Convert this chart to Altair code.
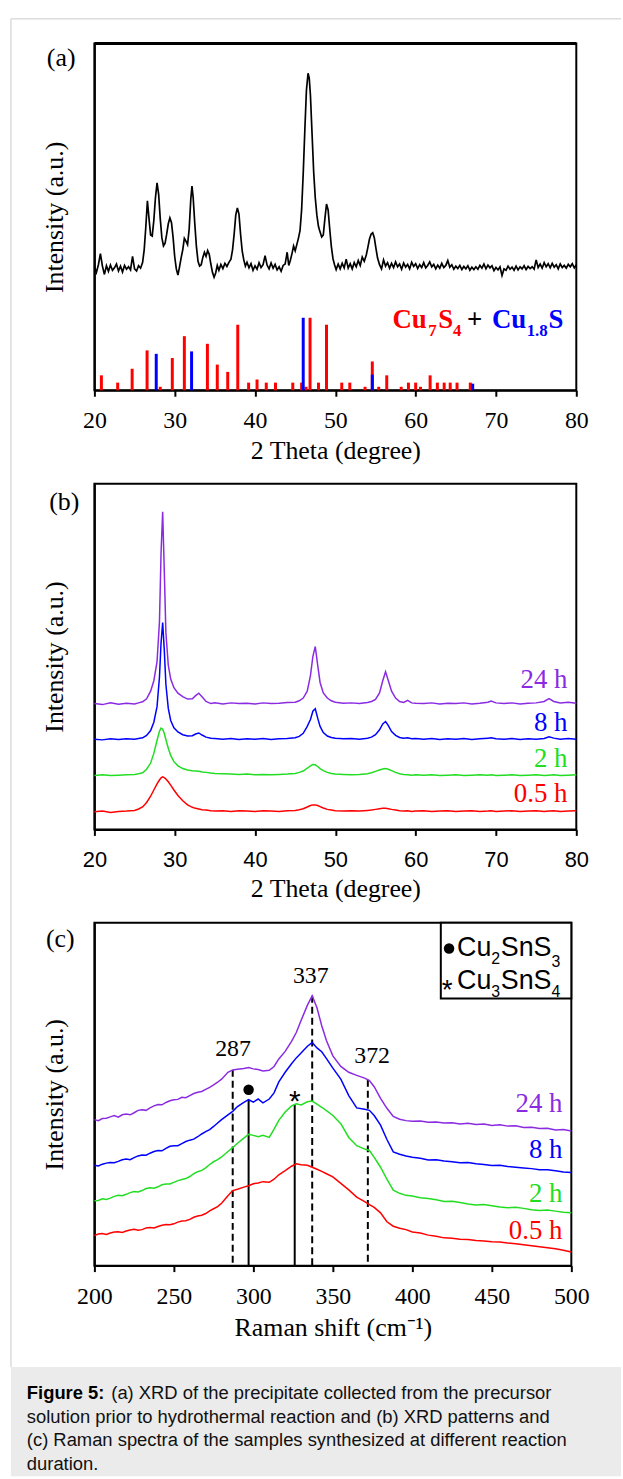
import altair as alt
import pandas as pd

SERIF = "Liberation Serif"
SANS = "Liberation Sans"
RED = "#ff0000"
BLUE = "#0000ff"
GREEN = "#22dd22"
PURPLE = "#8a2be2"
BLACK = "#000000"

# ---------------- (a) XRD of precipitate ----------------
a_x = [20.0, 20.25, 20.5, 20.75, 21.0, 21.25, 21.5, 21.75, 22.0, 22.25, 22.5, 22.75, 23.0, 23.25, 23.5, 23.75,
       24.0, 24.25, 24.5, 24.75, 25.0, 25.25, 25.5, 25.75, 26.0, 26.2, 26.4, 26.6, 26.8, 27.0, 27.2, 27.4,
       27.6, 27.8, 28.0, 28.2, 28.4, 28.6, 28.8, 29.0, 29.2, 29.4, 29.6, 29.8, 30.0, 30.2, 30.4, 30.6,
       30.8, 31.0, 31.2, 31.4, 31.6, 31.8, 32.0, 32.15, 32.3, 32.5, 32.7, 32.9, 33.1, 33.3, 33.5, 33.7,
       33.9, 34.1, 34.3, 34.5, 34.7, 34.9, 35.1, 35.3, 35.5, 35.75, 36.0, 36.25, 36.5, 36.75, 37.0, 37.2,
       37.4, 37.6, 37.8, 38.0, 38.2, 38.4, 38.6, 38.8, 39.0, 39.25, 39.5, 39.75, 40.0, 40.25, 40.5, 40.75,
       41.0, 41.25, 41.5, 41.75, 42.0, 42.25, 42.5, 42.75, 43.0, 43.25, 43.5, 43.75, 44.0, 44.2, 44.4, 44.6,
       44.8, 45.0, 45.2, 45.4, 45.6, 45.8, 46.0, 46.2, 46.4, 46.6, 46.75, 46.9, 47.1, 47.3, 47.5, 47.7,
       47.9, 48.1, 48.3, 48.5, 48.7, 48.9, 49.1, 49.3, 49.5, 49.7, 49.9, 50.1, 50.35, 50.6, 50.85, 51.1,
       51.35, 51.6, 51.85, 52.1, 52.35, 52.6, 52.85, 53.1, 53.35, 53.6, 53.85, 54.05, 54.25, 54.45, 54.65, 54.85,
       55.05, 55.25, 55.5, 55.75, 56.0, 56.25, 56.5, 56.75, 57.0, 57.25, 57.5, 57.75, 58.0, 58.25, 58.5, 58.75,
       59.0, 59.25, 59.5, 59.75, 60.0, 60.25, 60.5, 60.75, 61.0, 61.25, 61.5, 61.75, 62.0, 62.25, 62.5, 62.75,
       63.0, 63.25, 63.5, 63.75, 64.0, 64.25, 64.5, 64.75, 65.0, 65.25, 65.5, 65.75, 66.0, 66.25, 66.5, 66.75,
       67.0, 67.25, 67.5, 67.75, 68.0, 68.25, 68.5, 68.75, 69.0, 69.25, 69.5, 69.75, 70.0, 70.25, 70.5, 70.75,
       71.0, 71.25, 71.5, 71.75, 72.0, 72.25, 72.5, 72.75, 73.0, 73.25, 73.5, 73.75, 74.0, 74.25, 74.5, 74.75,
       75.0, 75.25, 75.5, 75.75, 76.0, 76.25, 76.5, 76.75, 77.0, 77.25, 77.5, 77.75, 78.0, 78.25, 78.5, 78.75,
       79.0, 79.25, 79.5, 79.75, 80.0]
a_y = [35.6, 34.0, 36.2, 39.4, 35.8, 33.4, 35.9, 34.3, 36.1, 34.6, 35.3, 36.4, 34.4, 35.8, 34.1, 36.0,
       34.9, 35.6, 34.7, 38.6, 35.0, 34.4, 35.9, 35.2, 36.8, 40.5, 47.0, 54.6, 49.5, 44.8, 44.5, 49.0,
       55.5, 59.8, 56.5, 49.5, 44.0, 41.6, 42.4, 45.0, 48.0, 49.7, 48.3, 44.0, 38.5, 35.0, 33.2, 35.6,
       38.2, 40.5, 43.8, 43.0, 42.0, 46.5, 55.0, 58.9, 55.5, 48.0, 41.5, 37.2, 35.8, 36.2, 38.3, 39.8,
       38.6, 40.3, 39.2, 36.4, 34.0, 32.6, 33.8, 36.0, 34.6, 36.3, 35.1, 36.6, 35.7, 36.9, 37.8, 40.5,
       45.0, 50.5, 52.6, 50.8, 45.0, 40.2, 37.6, 35.8, 36.9, 35.3, 36.5, 34.6, 35.9, 34.9, 36.8, 35.4,
       36.2, 38.8, 36.1, 35.0, 36.7, 35.2, 36.3, 34.7, 35.6, 34.3, 36.0, 36.4, 39.8, 36.0, 37.5, 39.4,
       41.6, 40.2, 42.0, 43.8, 46.0, 52.0, 62.5, 75.0, 86.5, 91.4, 90.0, 85.0, 74.0, 63.0, 55.5, 50.5,
       47.2, 45.6, 44.2, 44.8, 49.5, 53.7, 52.0, 46.5, 41.5, 38.0, 36.2, 34.8, 36.4, 35.0, 36.6, 35.3,
       37.8, 35.2, 36.5, 35.0, 36.8, 35.6, 37.4, 36.0, 38.4, 37.2, 39.0, 41.2, 43.6, 45.0, 45.4, 44.0,
       41.0, 38.2, 36.2, 35.0, 37.6, 35.8, 36.8, 35.2, 36.6, 35.4, 37.0, 35.6, 36.4, 34.9, 36.7, 35.5,
       36.3, 35.0, 36.9, 35.7, 36.5, 35.1, 36.2, 35.4, 36.8, 35.3, 36.0, 37.0, 35.6, 36.3, 35.0, 36.1,
       35.2, 36.6, 35.4, 36.0, 37.4, 35.5, 36.2, 34.9, 35.8, 35.1, 36.0, 34.8, 35.7, 35.0, 35.9, 34.6,
       35.5, 34.8, 35.6, 34.9, 36.0, 35.2, 36.4, 35.0, 36.1, 35.3, 35.9, 34.5, 35.4, 34.7, 35.6, 33.1,
       35.0, 34.6, 35.8, 34.9, 35.5, 34.6, 35.8, 34.7, 35.6, 35.0, 35.9, 34.8, 35.7, 35.1, 35.6, 34.9,
       37.6, 35.4, 36.4, 35.2, 36.8, 35.6, 36.5, 35.3, 36.6, 35.5, 36.2, 35.0, 36.4, 35.4, 36.0, 35.2,
       36.3, 35.6, 36.5, 35.3, 36.2]

# reference patterns (stick heights)
cu7s4_x = [20.87, 22.9, 24.7, 26.56, 28.2, 29.7, 31.2, 34.07, 35.3, 36.6, 37.85, 39.2, 40.25, 41.4, 42.55,
           44.7, 45.8, 46.35, 46.85, 47.9, 48.9, 50.8, 51.8, 53.7, 54.6, 55.4, 56.4, 58.2, 59.1, 60.0,
           60.6, 61.8, 62.7, 63.55, 64.3, 65.15, 66.8]
cu7s4_h = [4.3, 2.2, 6.2, 11.5, 1.0, 9.3, 15.6, 13.4, 7.4, 5.3, 18.9, 2.2, 3.1, 2.2, 2.2,
           2.2, 2.2, 1.0, 20.9, 2.2, 18.9, 2.2, 2.2, 1.0, 8.3, 1.0, 4.3, 1.0, 2.2, 2.2,
           1.0, 4.3, 2.2, 2.2, 2.2, 2.2, 2.2]
cu18s_x = [27.7, 32.1, 46.0, 54.6, 67.1]
cu18s_h = [10.5, 11.2, 20.9, 4.5, 1.9]

a_leg_t = ["Cu", "7", "S", "4", "+", "Cu", "1.8", "S"]
a_leg_x = [57.11, 61.57, 62.81, 64.66, 66.39, 69.49, 73.82, 76.54]
a_leg_y = [18.0, 15.6, 18.0, 15.6, 18.0, 18.0, 15.6, 18.0]
a_leg_c = [RED, RED, RED, RED, BLACK, BLUE, BLUE, BLUE]
a_leg_s = [27, 17, 27, 17, 27, 27, 17, 27]

# ---------------- (b) XRD vs time ----------------
b_x = [20, 21, 22, 23, 24, 25, 25.5, 26, 26.5, 27, 27.4, 27.8, 28.1, 28.3, 28.5, 28.7, 28.9, 29.2, 29.5, 29.9,
       30.4, 31, 31.6, 32.2, 32.6, 33, 33.4, 33.9, 34.5, 35, 36, 37, 38, 39, 40, 41, 42, 43, 44, 45,
       45.5, 46, 46.5, 46.9, 47.2, 47.5, 47.8, 48.1, 48.5, 49, 49.5, 50, 51, 52, 53, 54, 54.5, 55, 55.5, 55.9,
       56.25, 56.6, 57, 57.5, 58, 58.5, 59, 59.5, 60, 61, 62, 63, 64, 65, 66, 67, 68, 69, 69.4, 70,
       71, 72, 73, 74, 75, 76, 76.6, 77.2, 78, 79, 80]
b_24h = [36.4, 36.1, 36.6, 36.2, 36.5, 36.3, 36.6, 36.9, 37.8, 40.0, 43.0, 48.5, 60.0, 80.0, 91.9, 75.0, 57.0, 47.5, 43.5, 41.0,
         39.4, 38.4, 37.7, 37.8, 38.7, 39.4, 38.4, 37.0, 36.4, 36.6, 36.3, 36.6, 36.4, 36.5, 36.3, 36.6, 36.4, 36.5, 36.7, 36.8,
         37.2, 38.0, 40.0, 44.5, 50.0, 52.9, 47.5, 42.5, 39.5, 38.0, 37.2, 36.8, 36.5, 36.6, 36.4, 36.7, 37.0, 37.6, 39.5, 43.0,
         45.6, 43.0, 40.0, 38.0, 37.0, 36.7, 37.3, 36.6, 36.5, 36.4, 36.6, 36.3, 36.5, 36.4, 36.6, 36.3, 36.5, 36.8, 37.1, 36.6,
         36.4, 36.6, 36.3, 36.5, 36.6, 37.0, 37.8, 37.0, 36.6, 36.8, 36.5]
b_8h = [26.1, 25.9, 26.2, 26.0, 26.2, 26.1, 26.3, 26.5, 27.2, 28.6, 31.0, 35.5, 44.0, 54.0, 59.8, 52.0, 42.0, 35.0, 31.5, 29.4,
        28.2, 27.4, 27.0, 27.1, 27.6, 27.9, 27.3, 26.7, 26.4, 26.3, 26.1, 26.3, 26.0, 26.2, 26.1, 26.3, 26.0, 26.2, 26.3, 26.5,
        26.9, 27.8, 29.8, 31.8, 34.2, 34.9, 32.2, 29.8, 28.0, 27.0, 26.6, 26.4, 26.2, 26.3, 26.1, 26.4, 26.7, 27.4, 28.8, 30.5,
        31.2, 30.0, 28.3, 27.2, 26.6, 26.4, 26.5, 26.2, 26.3, 26.1, 26.3, 26.0, 26.2, 26.1, 26.3, 26.0, 26.2, 26.4, 26.5, 26.2,
        26.1, 26.3, 26.0, 26.2, 26.1, 26.3, 26.8, 26.4, 26.1, 26.3, 26.1]
b_2h = [15.6, 15.8, 15.6, 15.7, 15.8, 15.9, 16.1, 16.4, 17.4, 19.2, 22.0, 25.8, 28.4, 29.3, 29.0, 27.8, 26.0, 23.5, 21.4, 19.6,
        18.4, 17.6, 17.2, 17.0, 16.9, 16.8, 16.6, 16.5, 16.3, 16.2, 16.1, 16.0, 15.9, 16.0, 15.8, 15.9, 15.8, 15.9, 16.0, 16.2,
        16.5, 16.9, 17.7, 18.4, 18.8, 18.7, 18.2, 17.6, 17.0, 16.5, 16.2, 16.0, 15.9, 15.8, 15.9, 16.1, 16.4, 16.8, 17.2, 17.5,
        17.6, 17.4, 17.0, 16.5, 16.1, 15.9, 15.8, 15.7, 15.8, 15.7, 15.8, 15.6, 15.7, 15.8, 15.6, 15.7, 15.8, 15.7, 15.8, 15.6,
        15.7, 15.8, 15.6, 15.7, 15.8, 15.6, 15.7, 15.8, 15.6, 15.7, 15.8]
b_05h = [5.1, 5.3, 4.9, 5.2, 5.3, 5.5, 5.9, 6.5, 7.8, 9.6, 11.4, 13.2, 14.3, 14.9, 15.2, 15.0, 14.6, 13.8, 12.8, 11.4,
         9.8, 8.3, 7.1, 6.4, 6.1, 5.9, 5.7, 5.6, 5.4, 5.3, 5.4, 5.2, 5.4, 5.3, 5.2, 5.4, 5.3, 5.2, 5.4, 5.5,
         5.7, 6.0, 6.5, 6.9, 7.1, 7.1, 6.9, 6.6, 6.2, 5.8, 5.6, 5.4, 5.3, 5.4, 5.3, 5.5, 5.6, 5.8, 6.0, 6.1,
         6.1, 6.0, 5.8, 5.6, 5.4, 5.3, 5.4, 5.2, 5.3, 5.4, 5.2, 5.3, 5.4, 5.2, 5.3, 5.4, 5.2, 5.3, 5.4, 5.2,
         5.3, 5.4, 5.2, 5.3, 5.4, 5.2, 5.3, 5.4, 5.2, 5.3, 5.4]

series_names = ["24 h", "8 h", "2 h", "0.5 h"]
series_colors = [PURPLE, BLUE, GREEN, RED]
b_lbl_y = [43.1, 30.7, 20.4, 10.1]

# ---------------- (c) Raman ----------------
c_x = [200, 202.5, 205, 207.5, 210, 212.5, 215, 217.5, 220, 222.5, 225, 227.5, 230, 232.5, 235, 237.5, 240,
       242.5, 245, 247.5, 250, 252.5, 255, 257.5, 260, 262.5, 265, 267.5, 270, 272.5, 275, 277.5, 280,
       284, 287, 290, 294, 297, 300, 303, 306, 310, 313, 316, 320, 324, 327, 330, 334, 337, 340, 343, 346,
       350, 355, 360, 365, 370, 373, 376, 380, 384, 388, 392, 396, 400,
       405, 410, 415, 420, 425, 430, 435, 440, 445, 450, 455, 460, 465, 470, 475, 480, 485, 490, 495, 500]
c_24h = [42.6, 42.3, 42.9, 43.0, 43.4, 43.8, 43.3, 44.0, 44.2, 44.0, 44.6, 45.3, 45.5, 45.3, 46.0, 46.6, 47.0,
         46.9, 47.6, 48.1, 48.4, 48.5, 49.1, 49.0, 49.6, 50.2, 50.6, 50.8, 51.4, 52.0, 52.7, 53.5, 54.4,
         56.4, 57.1, 57.3, 57.5, 57.8, 57.4, 57.2, 56.8, 57.0, 58.1, 60.3, 62.5, 65.4, 68.0, 71.5, 76.0, 78.7, 75.2, 70.0, 65.6,
         61.2, 58.1, 56.4, 55.5, 54.7, 54.0, 52.2, 48.8, 45.9, 43.5, 42.7, 42.3, 42.1,
         42.2, 41.8, 41.9, 41.6, 41.7, 41.3, 41.5, 41.2, 41.3, 40.9, 41.1, 40.7, 40.8, 40.3, 40.4, 40.0, 40.1, 39.6, 39.7, 39.3]
c_8h = [29.3, 29.1, 29.6, 29.9, 30.1, 30.0, 30.4, 30.9, 31.1, 30.9, 31.5, 32.0, 32.3, 32.2, 32.8, 33.3, 33.6,
        33.5, 34.2, 34.8, 35.0, 35.0, 35.6, 36.2, 36.6, 36.9, 37.6, 38.4, 39.1, 39.7, 40.6, 41.6, 42.6,
        44.0, 45.0, 46.4, 47.6, 48.4, 47.7, 48.6, 47.5, 48.6, 50.4, 53.6, 56.4, 58.9, 60.6, 62.0, 64.0, 65.1, 63.5, 62.4, 60.4,
        57.6, 54.4, 49.6, 46.0, 45.6, 45.3, 43.8, 41.0, 36.8, 33.2, 32.5, 32.0, 31.6,
        31.3, 30.8, 30.9, 30.5, 30.3, 30.0, 30.1, 29.7, 29.5, 29.2, 29.3, 28.9, 28.7, 28.5, 28.3, 28.0, 28.0, 27.7, 27.3, 27.2]
c_2h = [18.9, 19.0, 19.5, 19.3, 19.7, 20.2, 20.5, 20.4, 20.8, 21.3, 21.6, 21.5, 21.9, 22.5, 22.7, 22.6, 23.0,
        23.6, 23.8, 23.8, 24.3, 24.8, 25.1, 25.4, 26.0, 26.8, 27.4, 27.8, 28.5, 29.5, 30.3, 30.9, 31.7,
        33.3, 34.4, 35.7, 37.2, 38.3, 38.0, 37.6, 38.0, 37.4, 39.8, 42.4, 44.8, 46.6, 47.2, 46.9, 47.8, 48.0, 47.1, 46.2, 45.2,
        43.8, 41.4, 37.4, 35.0, 34.0, 33.6, 31.6, 28.7, 25.2, 22.0, 21.1, 20.5, 20.3,
        19.8, 19.6, 19.2, 18.7, 18.8, 18.4, 18.0, 17.7, 17.8, 17.5, 17.1, 16.9, 17.0, 16.7, 16.3, 16.1, 16.2, 15.9, 15.6, 15.4]
c_05h = [8.8, 9.2, 9.4, 9.1, 9.5, 9.8, 9.9, 9.7, 10.1, 10.4, 10.6, 10.3, 10.5, 11.0, 11.1, 11.0, 11.4,
         11.8, 12.0, 11.9, 12.2, 12.7, 13.0, 13.1, 13.5, 14.1, 14.5, 14.7, 15.2, 16.0, 16.6, 17.2, 18.2,
         20.4, 21.9, 22.3, 22.9, 23.3, 23.9, 24.1, 24.5, 24.3, 25.2, 26.5, 27.7, 29.0, 29.7, 29.4, 29.3, 28.7, 28.1, 27.5, 26.8,
         25.9, 24.0, 22.1, 20.0, 18.7, 17.8, 17.0, 15.4, 12.8, 11.5, 10.9, 10.5, 9.8,
         9.5, 8.9, 8.6, 8.1, 8.0, 7.7, 7.6, 7.3, 7.2, 7.0, 6.9, 6.6, 6.4, 6.1, 5.8, 5.5, 5.2, 4.9, 4.5, 4.0]
c_lbl_y = [47.0, 33.7, 20.9, 10.2]

dash_x = [287, 337, 372]
dash_top = [57.1, 78.7, 54.2]
solid_x = [297, 326]
solid_top = [48.4, 47.0]
peak_t = ["287", "337", "372"]
peak_x = [287.2, 336.1, 374.7]
peak_y = [63.2, 84.6, 61.0]

c_leg_t = ["Cu", "2", "SnS", "3", "Cu", "3", "SnS", "4"]
c_leg_x = [428.1, 449.7, 455.6, 487.5, 428.1, 449.7, 455.6, 487.5]
c_leg_y = [90.4, 88.1, 90.4, 87.2, 80.6, 78.4, 80.6, 78.4]
c_leg_s = [27, 16, 27, 16, 27, 16, 27, 16]

caption_bold = "Figure 5:"
caption_lines = [
    "(a) XRD of the precipitate collected from the precursor",
    "solution prior to hydrothermal reaction and (b) XRD patterns and",
    "(c) Raman spectra of the samples synthesized at different reaction",
    "duration.",
]

# ---------------- helpers ----------------
def x_axis(title, lfont, lsize, values, lpad):
    return alt.Axis(values=values, title=title, titleFont=SERIF, titleFontSize=26, titleFontWeight="normal",
                    titleColor="black", titlePadding=6, labelFont=lfont, labelFontSize=lsize, labelColor="black",
                    labelPadding=lpad, labelFlush=False, labelOverlap=False, tickSize=6, tickWidth=2,
                    tickColor="black", domainColor="black", domainWidth=2, grid=False)

Y_AXIS = alt.Axis(title="Intensity (a.u.)", titleFont=SERIF, titleFontSize=26, titleFontWeight="normal",
                  titleColor="black", titlePadding=27, labels=False, ticks=False, domainColor="black",
                  domainWidth=2, grid=False)

def XE(field, dom, axis):
    return alt.X(f"{field}:Q", scale=alt.Scale(domain=dom, nice=False, zero=False), axis=axis)

def YE(field):
    return alt.Y(f"{field}:Q", scale=alt.Scale(domain=[0, 100], nice=False, zero=False), axis=Y_AXIS)

one = pd.DataFrame({"k": [0]})

# ---------------- panel (a) ----------------
AX_A = x_axis("2 Theta (degree)", SERIF, 24, [20, 30, 40, 50, 60, 70, 80], 12)
DA = [20, 80]
df_a = pd.DataFrame({"x": a_x, "y": a_y})
df_r = pd.DataFrame({"x": cu7s4_x, "y": cu7s4_h, "y0": 0})
df_bl = pd.DataFrame({"x": cu18s_x, "y": cu18s_h, "y0": 0})
df_aleg = pd.DataFrame({"x": a_leg_x, "y": a_leg_y, "t": a_leg_t, "c": a_leg_c, "s": a_leg_s})
df_alab = pd.DataFrame({"x": [15.86], "y": [95.8], "t": ["(a)"]})

pa = alt.layer(
    alt.Chart(df_a).mark_line(color="black", strokeWidth=1.7).encode(x=XE("x", DA, AX_A), y=YE("y")),
    alt.Chart(df_r).mark_rule(color=RED, strokeWidth=3).encode(x=XE("x", DA, AX_A), y=YE("y"), y2="y0:Q"),
    alt.Chart(df_bl).mark_rule(color=BLUE, strokeWidth=3).encode(x=XE("x", DA, AX_A), y=YE("y"), y2="y0:Q"),
    alt.Chart(one).mark_rule(color="black", strokeWidth=3).encode(y=alt.datum(100)),
    alt.Chart(df_aleg).mark_text(font=SERIF, fontWeight="bold", align="left", baseline="alphabetic").encode(
        x=XE("x", DA, AX_A), y=YE("y"), text="t:N", color=alt.Color("c:N", scale=None),
        size=alt.Size("s:Q", scale=None)),
    alt.Chart(df_alab).mark_text(font=SERIF, fontSize=26, align="center", baseline="middle", color="black").encode(
        x=XE("x", DA, AX_A), y=YE("y"), text="t:N"),
    alt.Chart(one).mark_rule(color="#dcdcdc", strokeWidth=1.5).encode(
        x=alt.value(-84), x2=alt.value(530), y=alt.value(-25)),
).properties(width=485, height=349)

# ---------------- panel (b) ----------------
AX_B = x_axis("2 Theta (degree)", SANS, 22, [20, 30, 40, 50, 60, 70, 80], 14)
rows = []
for name, col, ys in zip(series_names, series_colors, [b_24h, b_8h, b_2h, b_05h]):
    for xv, yv in zip(b_x, ys):
        rows.append({"x": xv, "y": yv, "s": name, "c": col})
df_b = pd.DataFrame(rows)
df_blab = pd.DataFrame({"x": [78.9] * 4, "y": b_lbl_y, "t": series_names, "c": series_colors})
df_bpl = pd.DataFrame({"x": [16.24], "y": [94.8], "t": ["(b)"]})

pb = alt.layer(
    alt.Chart(df_b).mark_line(strokeWidth=1.5).encode(
        x=XE("x", DA, AX_B), y=YE("y"), color=alt.Color("c:N", scale=None), detail="s:N"),
    alt.Chart(df_blab).mark_text(font=SERIF, fontSize=27, align="right", baseline="middle").encode(
        x=XE("x", DA, AX_B), y=YE("y"), text="t:N", color=alt.Color("c:N", scale=None)),
    alt.Chart(df_bpl).mark_text(font=SERIF, fontSize=26, align="center", baseline="middle", color="black").encode(
        x=XE("x", DA, AX_B), y=YE("y"), text="t:N"),
).properties(width=485, height=348)

# ---------------- panel (c) ----------------
AX_C = x_axis("Raman shift (cm\u207b\u00b9)", SERIF, 24, [200, 250, 300, 350, 400, 450, 500], 13)
DC = [200, 500]
rows = []
for name, col, ys in zip(series_names, series_colors, [c_24h, c_8h, c_2h, c_05h]):
    for xv, yv in zip(c_x, ys):
        rows.append({"x": xv, "y": yv, "s": name, "c": col})
df_c = pd.DataFrame(rows)
df_clab = pd.DataFrame({"x": [494.4] * 4, "y": c_lbl_y, "t": series_names, "c": series_colors})
df_dash = pd.DataFrame({"x": dash_x, "y": dash_top, "y0": 0})
df_solid = pd.DataFrame({"x": solid_x, "y": solid_top, "y0": 0})
df_peak = pd.DataFrame({"x": peak_x, "y": peak_y, "t": peak_t})
df_dot = pd.DataFrame({"x": [297, 423.1], "y": [51.3, 92.5]})
df_star = pd.DataFrame({"x": [326], "y": [49.9]})
df_lstar = pd.DataFrame({"x": [421.9], "y": [81.3]})
df_box = pd.DataFrame({"x": [417.9], "x2": [500], "y": [77.9], "y2": [100]})
df_cleg = pd.DataFrame({"x": c_leg_x, "y": c_leg_y, "t": c_leg_t, "s": c_leg_s})
df_cpl = pd.DataFrame({"x": [178.5], "y": [95.4], "t": ["(c)"]})

pc = alt.layer(
    alt.Chart(df_dash).mark_rule(color="black", strokeWidth=2, strokeDash=[7, 4]).encode(
        x=XE("x", DC, AX_C), y=YE("y"), y2="y0:Q"),
    alt.Chart(df_solid).mark_rule(color="black", strokeWidth=2).encode(
        x=XE("x", DC, AX_C), y=YE("y"), y2="y0:Q"),
    alt.Chart(df_c).mark_line(strokeWidth=1.5).encode(
        x=XE("x", DC, AX_C), y=YE("y"), color=alt.Color("c:N", scale=None), detail="s:N"),
    alt.Chart(df_clab).mark_text(font=SERIF, fontSize=27, align="right", baseline="middle").encode(
        x=XE("x", DC, AX_C), y=YE("y"), text="t:N", color=alt.Color("c:N", scale=None)),
    alt.Chart(df_peak).mark_text(font=SERIF, fontSize=24, align="center", baseline="middle", color="black").encode(
        x=XE("x", DC, AX_C), y=YE("y"), text="t:N"),
    alt.Chart(df_box).mark_rect(fill="white", stroke="black", strokeWidth=2).encode(
        x=XE("x", DC, AX_C), x2="x2:Q", y=YE("y"), y2="y2:Q"),
    alt.Chart(df_dot).mark_point(shape="circle", filled=True, size=110, color="black", opacity=1).encode(
        x=XE("x", DC, AX_C), y=YE("y")),
    alt.Chart(df_star).mark_text(font=SANS, fontSize=30, align="center", baseline="middle", dy=8,
                                 color="black").encode(x=XE("x", DC, AX_C), y=YE("y"), text=alt.value("*")),
    alt.Chart(df_lstar).mark_text(font=SANS, fontSize=28, align="center", baseline="middle", dy=4,
                                  color="black").encode(x=XE("x", DC, AX_C), y=YE("y"), text=alt.value("*")),
    alt.Chart(df_cleg).mark_text(font=SANS, align="left", baseline="alphabetic", color="black").encode(
        x=XE("x", DC, AX_C), y=YE("y"), text="t:N", size=alt.Size("s:Q", scale=None)),
    alt.Chart(df_cpl).mark_text(font=SERIF, fontSize=26, align="center", baseline="middle", color="black").encode(
        x=XE("x", DC, AX_C), y=YE("y"), text="t:N"),
).properties(width=480, height=345)

# ---------------- caption ----------------
df_cap = pd.DataFrame({"t": caption_lines, "px": [17, -68, -68, -68], "py": [40, 64, 88, 112]})
df_capb = pd.DataFrame({"t": [caption_bold], "px": [-68], "py": [40]})

cap = alt.layer(
    alt.Chart(one).mark_rect(color="#ebebeb").encode(
        x=alt.value(-84), x2=alt.value(530), y=alt.value(8), y2=alt.value(118)),
    alt.Chart(one).mark_rule(color="#dcdcdc", strokeWidth=1.5).encode(
        x=alt.value(-84), y=alt.value(-1349), y2=alt.value(8)),
    alt.Chart(df_capb).mark_text(font=SANS, fontSize=18.5, fontWeight="bold", align="left",
                                 baseline="alphabetic", color="black").encode(
        x=alt.X("px:Q", scale=None, axis=None), y=alt.Y("py:Q", scale=None, axis=None), text="t:N"),
    alt.Chart(df_cap).mark_text(font=SANS, fontSize=18.5, align="left", baseline="alphabetic",
                                color="#111111").encode(
        x=alt.X("px:Q", scale=None, axis=None), y=alt.Y("py:Q", scale=None, axis=None), text="t:N"),
).properties(width=485, height=118, view=alt.ViewBackground(stroke="transparent"))

chart = alt.vconcat(pa, pb, pc, cap, spacing=94, bounds="flush").properties(
    padding={"left": 9, "top": 12, "right": 0, "bottom": 0}, background="white"
).configure_view(stroke="black", strokeWidth=2)

chart.save("out.html", embed_options={"renderer": "svg", "actions": False})
